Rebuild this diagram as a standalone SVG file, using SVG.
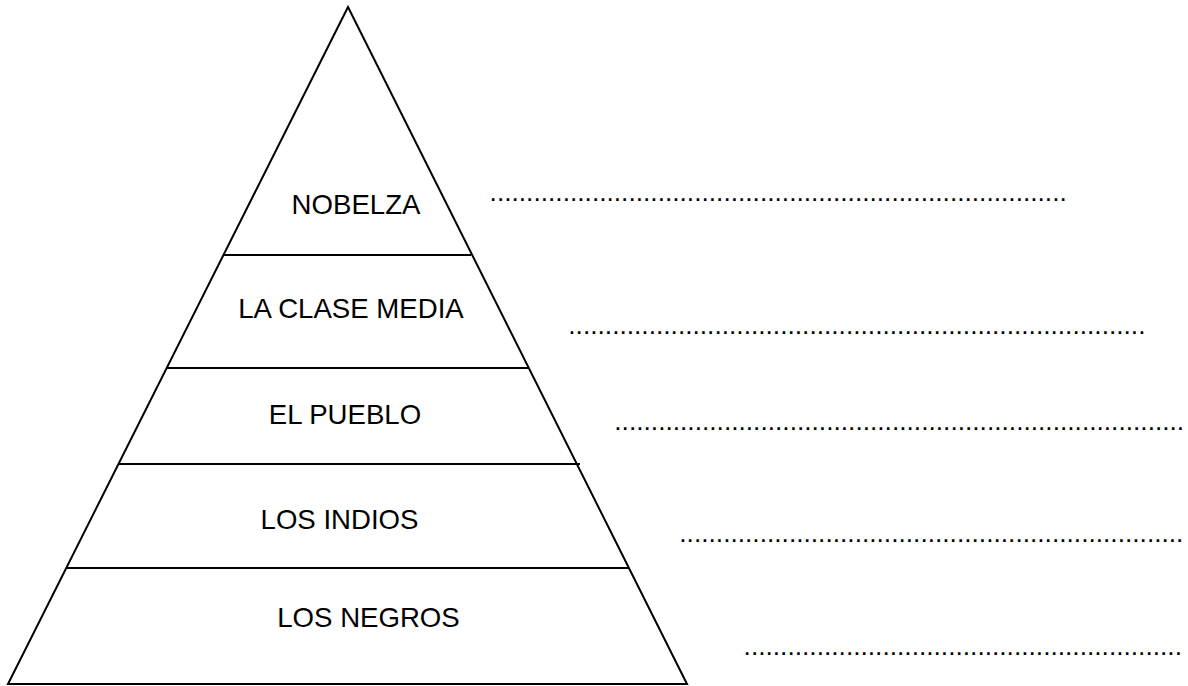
<svg xmlns="http://www.w3.org/2000/svg" width="1188" height="686" viewBox="0 0 1188 686">
<style>
.ln{stroke:#000;stroke-width:2;fill:none}
.lbl{font-family:"Liberation Sans",Arial,sans-serif;font-size:27.6px;fill:#000;text-anchor:middle}
.dots{font-family:"Liberation Sans",Arial,sans-serif;font-size:26.3px;fill:#000}
</style>
<rect width="1188" height="686" fill="#fff"/>
<g id="connectors">
<polygon class="ln" points="348,7 8,684 687,684"/>
<line class="ln" x1="224" y1="255" x2="471" y2="255"/>
<line class="ln" x1="167" y1="368" x2="528" y2="368"/>
<line class="ln" x1="119" y1="464" x2="580" y2="464"/>
<line class="ln" x1="66" y1="568" x2="629" y2="568"/>
</g>
<g id="nobelza"><text class="lbl" x="356" y="214">NOBELZA</text><text class="dots" x="489.6" y="200.5">...............................................................................</text></g>
<g id="clase-media"><text class="lbl" x="351" y="318">LA CLASE MEDIA</text><text class="dots" x="568.3" y="333.5">...............................................................................</text></g>
<g id="pueblo"><text class="lbl" x="345" y="424">EL PUEBLO</text><text class="dots" x="614.3" y="429.5">..............................................................................</text></g>
<g id="indios"><text class="lbl" x="339.5" y="529">LOS INDIOS</text><text class="dots" x="679.3" y="541.5">.....................................................................</text></g>
<g id="negros"><text class="lbl" x="368.5" y="626.5">LOS NEGROS</text><text class="dots" x="743.6" y="654.7">............................................................</text></g>
</svg>
